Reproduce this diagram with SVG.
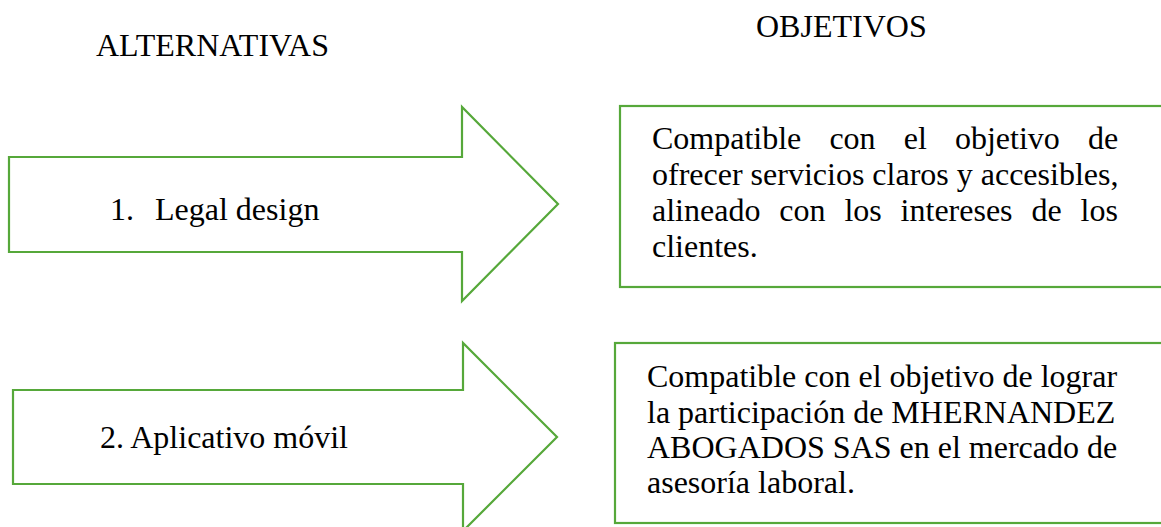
<svg xmlns="http://www.w3.org/2000/svg" width="1161" height="527" viewBox="0 0 1161 527">
<style>
.shape{fill:#ffffff;stroke:#56A83A;stroke-width:2.2;stroke-linejoin:miter}
.t{font-family:'Liberation Serif',serif;font-size:32px;fill:#000000}
</style>
<rect x="0" y="0" width="1161" height="527" fill="#ffffff"/>
<g id="header-alternativas"><text class="t" x="96" y="56">ALTERNATIVAS</text></g>
<g id="header-objetivos"><text class="t" x="756" y="37">OBJETIVOS</text></g>
<g id="alt1">
<polygon class="shape" points="9,157 462,157 462,107 558,204 462,301 462,252 9,252"/>
<text class="t" x="110" y="220">1.</text>
<text class="t" x="155" y="220">Legal design</text>
</g>
<g id="alt2">
<polygon class="shape" points="13,390 463,390 463,343 557,437 463,531 463,484 13,484"/>
<text class="t" x="100" y="448">2. Aplicativo móvil</text>
</g>
<g id="obj1">
<rect class="shape" x="620" y="106" width="560" height="181"/>
<text class="t" y="149"><tspan x="652">Compatible</tspan><tspan x="829.4">con</tspan><tspan x="903.7">el</tspan><tspan x="954.9">objetivo</tspan><tspan x="1087.9">de</tspan></text>
<text class="t" x="652" y="185">ofrecer servicios claros y accesibles,</text>
<text class="t" y="221"><tspan x="652">alineado</tspan><tspan x="779.3">con</tspan><tspan x="844.4">los</tspan><tspan x="900.6">intereses</tspan><tspan x="1031.5">de</tspan><tspan x="1080.6">los</tspan></text>
<text class="t" x="652" y="257">clientes.</text>
</g>
<g id="obj2">
<rect class="shape" x="615" y="343" width="560" height="180"/>
<text class="t" x="647" y="387">Compatible con el objetivo de lograr</text>
<text class="t" x="647" y="423">la participación de MHERNANDEZ</text>
<text class="t" x="647" y="458">ABOGADOS SAS en el mercado de</text>
<text class="t" x="647" y="493">asesoría laboral.</text>
</g>
<g id="connectors"></g>
</svg>
